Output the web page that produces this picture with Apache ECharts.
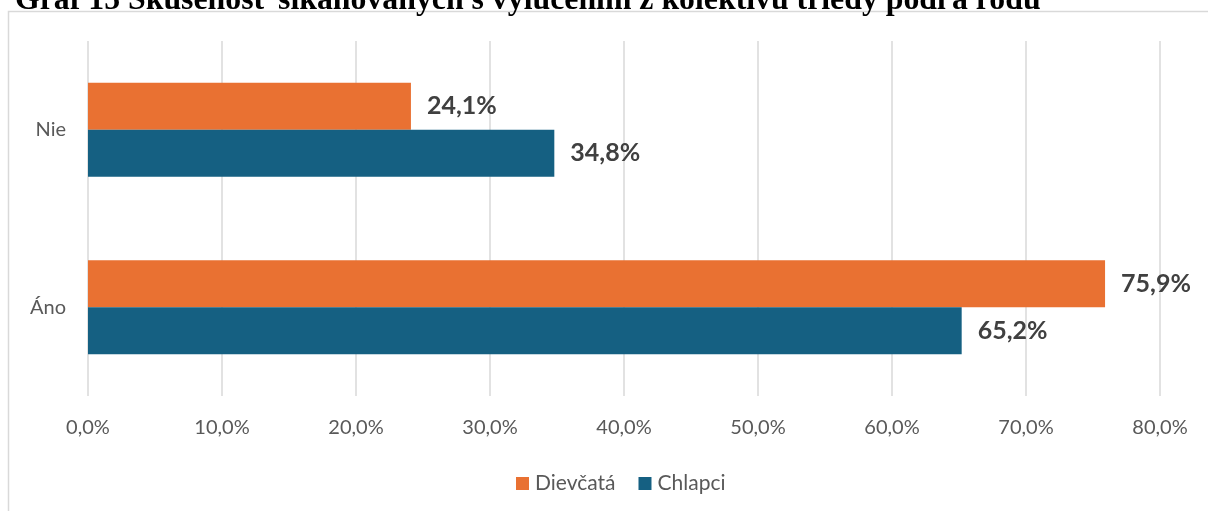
<!DOCTYPE html>
<html>
<head>
<meta charset="utf-8">
<script src="https://cdn.jsdelivr.net/npm/echarts@6/dist/echarts.min.js"></script>
<style>
  html, body { margin: 0; padding: 0; background: #ffffff; }
  #chart { width: 1208px; height: 511px; }
</style>
</head>
<body>
<div id="chart"></div>
<script>
// Answer categories, bottom to top on the vertical axis
const categories = ['Áno', 'Nie'];
// Share of respondents (%) per gender
const dievcata = [75.9, 24.1];
const chlapci = [65.2, 34.8];
// Horizontal axis tick values (%)
const xTicks = [0, 10, 20, 30, 40, 50, 60, 70, 80];

const titleText = 'Graf 15 Skúsenosť šikanovaných s vylúčením z kolektívu triedy podľa rodu';

const pct = v => v.toFixed(1).replace('.', ',') + '%';

const labelStyle = {
  show: true,
  position: 'right',
  distance: 16,
  fontFamily: 'Lato',
  fontWeight: 'bold',
  fontSize: 25,
  color: '#404040',
  formatter: p => pct(p.value)
};

const chart = echarts.init(document.getElementById('chart'), null, { renderer: 'canvas' });
chart.setOption({
  animation: false,
  backgroundColor: '#ffffff',
  graphic: [
    {
      type: 'rect',
      shape: { x: 8.5, y: 11.5, width: 1400, height: 700 },
      style: { fill: 'none', stroke: '#d9d9d9', lineWidth: 1.5 },
      z: 0
    },
    {
      type: 'text',
      x: 15,
      y: 17,
      style: {
        text: titleText,
        font: 'bold 31.8px "Liberation Serif"',
        fill: '#000000',
        verticalAlign: 'bottom',
        align: 'left'
      },
      z: 10
    }
  ],
  grid: { left: 88, right: 48, top: 41, bottom: 115, containLabel: false },
  legend: {
    data: ['Dievčatá', 'Chlapci'],
    left: 511,
    top: 468,
    itemWidth: 13,
    itemHeight: 13,
    itemGap: 23,
    icon: 'rect',
    textStyle: {
      fontFamily: 'Lato',
      fontSize: 21,
      color: '#595959',
      padding: [0, 0, 0, 1]
    }
  },
  xAxis: {
    type: 'value',
    min: xTicks[0],
    max: xTicks[xTicks.length - 1],
    interval: xTicks[1] - xTicks[0],
    axisLine: { show: false },
    axisTick: { show: false },
    splitLine: { show: true, lineStyle: { color: '#d9d9d9', width: 1.5 } },
    axisLabel: {
      margin: 22,
      fontFamily: 'Lato',
      fontSize: 20,
      color: '#595959',
      formatter: v => pct(v)
    }
  },
  yAxis: {
    type: 'category',
    data: categories,
    axisLine: { show: false },
    axisTick: { show: false },
    axisLabel: { margin: 22, fontFamily: 'Lato', fontSize: 20, color: '#595959' }
  },
  series: [
    {
      name: 'Dievčatá',
      type: 'bar',
      data: dievcata,
      itemStyle: { color: '#E97132' },
      barGap: '0%',
      barCategoryGap: '47%',
      label: labelStyle
    },
    {
      name: 'Chlapci',
      type: 'bar',
      data: chlapci,
      itemStyle: { color: '#156082' },
      barGap: '0%',
      barCategoryGap: '47%',
      label: labelStyle
    }
  ]
});
</script>
</body>
</html>
